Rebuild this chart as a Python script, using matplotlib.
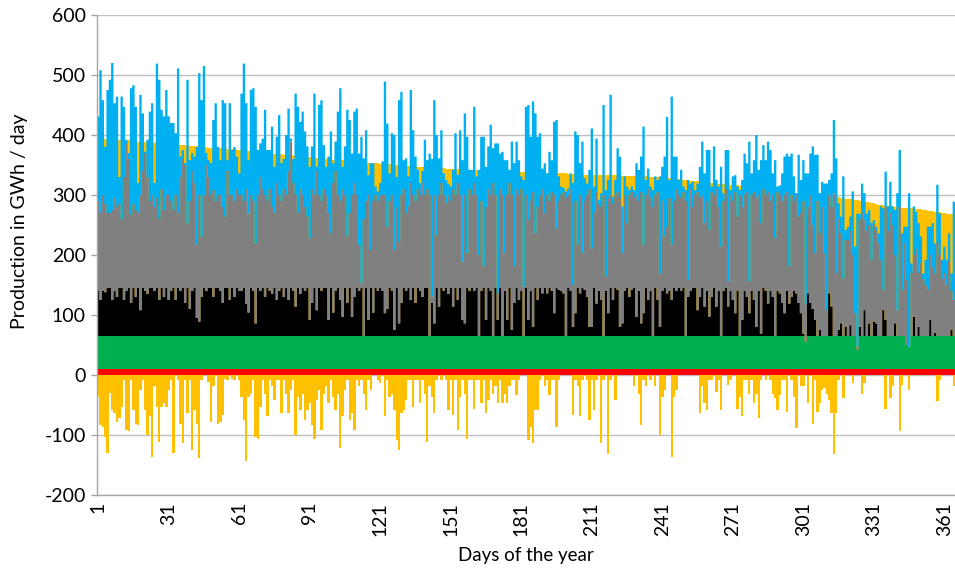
import numpy as np
import matplotlib

matplotlib.use("Agg")
import matplotlib.pyplot as plt

# daily levels in GWh/day, one value per day of the year (1..365)
yellow_top = [
    395, 395, 394, 394, 394, 393, 393, 393, 392, 392, 392, 391, 391, 391, 390, 390, 390, 389, 389, 389,
    388, 388, 388, 387, 387, 387, 386, 386, 386, 385, 385, 385, 384, 384, 384, 383, 383, 383, 382, 382,
    382, 381, 381, 381, 380, 380, 380, 379, 379, 379, 378, 378, 378, 377, 377, 377, 376, 376, 376, 375,
    375, 375, 374, 374, 373, 373, 373, 372, 372, 371, 371, 371, 370, 370, 369, 369, 369, 368, 368, 367,
    367, 367, 366, 366, 365, 365, 365, 364, 364, 363, 363, 363, 362, 362, 361, 361, 361, 360, 360, 359,
    359, 359, 358, 358, 358, 357, 357, 357, 356, 356, 356, 355, 355, 355, 354, 354, 354, 353, 353, 353, 352, 352,
    351, 351, 351, 350, 350, 350, 349, 349, 349, 349, 348, 348, 348, 348, 347, 347, 347, 347, 346, 346,
    346, 346, 345, 345, 345, 345, 344, 344, 344, 344, 344, 343, 343, 343, 343, 342, 342, 342, 342, 342,
    341, 341, 341, 341, 341, 341, 340, 340, 340, 340, 340, 340, 339, 339, 339, 339, 339, 339, 339, 338, 338,
    338, 338, 338, 338, 337, 337, 337, 337, 337, 337, 336, 336, 336, 336, 336, 336, 336, 335, 335, 335,
    335, 335, 335, 335, 334, 334, 334, 334, 334, 334, 334, 333, 333, 333, 333, 333, 333, 333, 332, 332,
    332, 332, 332, 332, 332, 331, 331, 331, 331, 331, 331, 330, 330, 330, 330, 330, 329, 329, 329, 329, 328,
    328, 327, 327, 326, 326, 325, 325, 324, 324, 323, 323, 323, 322, 322, 321, 321, 320, 320, 320, 319,
    319, 318, 318, 318, 317, 317, 317, 316, 316, 315, 315, 314, 314, 313, 313, 312, 312, 311, 311, 310,
    310, 309, 309, 308, 308, 308, 307, 307, 306, 306, 305, 305, 305, 304, 304, 303, 303, 302, 302, 301, 301,
    300, 300, 299, 299, 298, 298, 297, 297, 297, 296, 296, 295, 295, 294, 294, 293, 292, 292, 291, 290,
    290, 289, 288, 288, 287, 286, 285, 284, 283, 283, 282, 282, 281, 281, 280, 280, 280, 279, 279, 278,
    278, 278, 277, 277, 276, 276, 275, 275, 274, 273, 273, 272, 271, 271, 270, 270, 269, 269, 268, 268,
]

yellow_bottom = [
    -36, -83, -86, -103, -130, -30, -58, -64, -78, -72,
    -53, -8, -92, -94, -8, -58, -81, -83, -25, -8,
    -58, -100, -69, -136, -19, -53, -111, -53, -47, -53,
    -25, -8, -130, 0, -8, -81, -114, -8, -64, -8,
    -125, -58, -81, -139, -8, 0, 0, -11, -78, -19,
    0, -81, -78, -67, -6, -8, 0, -6, -8, 0, -8,
    -36, -75, -144, -36, -31, -8, -103, -106, -53, -8,
    -31, -69, -8, -19, -42, -8, -8, -64, -8, -31,
    -64, -25, -8, -100, -36, -58, -31, -75, -58, -47,
    -83, -106, -42, -25, -92, -31, -19, -47, -8, -36,
    -58, -31, -122, -69, -25, -8, -75, -64, -92, -8,
    -19, -8, -31, -58, -8, -25, 0, 0, -8, -14, 0,
    -69, -8, -36, -31, -58, -108, -125, -64, -58, -42,
    -8, -8, -53, -8, -8, -47, -8, -31, -111, -19,
    -36, -64, -8, 0, -8, 0, -8, -58, -8, -67,
    -8, -92, -36, -8, -31, -106, -8, -8, -56, -8,
    -8, -47, -8, -64, -42, -8, -31, -19, -47, -8,
    -47, -31, -47, -19, -8, -8, -33, -8, 0, 0, 0,
    -108, -86, -114, -58, -58, -8, 0, -19, -8, -33,
    -8, -8, -86, -8, 0, 0, 0, 0, 0, -67,
    -8, -19, -69, -8, 0, -8, -75, -8, -58, -8,
    0, -114, -8, 0, -131, -8, 0, -42, 0, 0,
    0, 0, 0, 0, 0, -19, 0, -31, -83, -8,
    -19, 0, -8, 0, -19, 0, -100, -36, -25, 0, 0,
    -136, -36, -25, 0, 0, 0, 0, 0, 0, 0,
    0, 0, -64, -19, -47, -58, -8, -8, 0, -28,
    -8, -58, 0, 0, -17, -8, 0, 0, -56, -36,
    -69, -8, -8, -31, -8, -47, -31, -72, -8, 0,
    -8, 0, -8, -31, -39, -58, -33, -8, -8, -61,
    0, -8, -36, -89, 0, -19, -19, 0, -47, 0, -81,
    -8, -61, -47, -25, -22, -31, -42, -64, -131, -64,
    -8, 0, -39, 0, 0, 0, -14, 0, 0, 0,
    -31, -14, 0, 0, 0, 0, 0, 0, 0, 0,
    -56, 0, -39, -19, 0, 0, -94, -17, 0, 0,
    -25, 0, 0, 0, 0, 0, 0, 0, 0, 0,
    0, 0, -44, -8, 0, 0, 0, 0, 0, -19,
]

red_top = 10
green_top = 65
green_dips = {302: 56, 324: 42, 345: 50, 346: 47}

black_top = [
    140, 125, 140, 138, 145, 145, 125, 140, 130, 145,
    145, 125, 140, 145, 120, 145, 130, 145, 108, 145,
    140, 135, 145, 145, 140, 145, 125, 145, 130, 145,
    125, 140, 145, 125, 145, 140, 145, 120, 145, 110,
    140, 145, 95, 89, 130, 145, 140, 145, 145, 130,
    145, 145, 140, 120, 145, 145, 125, 145, 130, 145, 140,
    140, 145, 119, 104, 145, 140, 86, 145, 140, 145,
    130, 145, 140, 135, 145, 125, 140, 145, 130, 145,
    125, 145, 140, 114, 145, 135, 145, 140, 145, 92,
    120, 145, 108, 145, 140, 145, 145, 92, 145, 104,
    140, 145, 125, 97, 145, 120, 145, 97, 130, 145,
    140, 145, 65, 145, 92, 145, 104, 145, 140, 145, 140,
    103, 110, 145, 140, 75, 145, 86, 120, 145, 140,
    145, 125, 145, 120, 145, 140, 130, 145, 145, 65,
    120, 86, 145, 114, 145, 140, 145, 135, 145, 114,
    145, 125, 145, 92, 86, 145, 140, 145, 140, 145,
    65, 140, 145, 92, 145, 140, 65, 145, 92, 145,
    65, 140, 92, 145, 75, 120, 145, 125, 140, 65, 145,
    92, 140, 80, 145, 125, 145, 136, 145, 136, 145,
    140, 103, 145, 142, 140, 136, 65, 145, 140, 80,
    103, 145, 136, 145, 142, 130, 80, 80, 145, 119,
    140, 125, 65, 140, 103, 145, 125, 145, 142, 80,
    86, 140, 145, 130, 142, 145, 97, 140, 86, 103,
    145, 125, 140, 65, 145, 125, 80, 140, 145, 136, 140,
    125, 145, 140, 145, 140, 145, 65, 130, 140, 145,
    145, 108, 130, 145, 114, 140, 97, 130, 145, 114,
    140, 65, 140, 145, 114, 140, 125, 103, 140, 65,
    92, 140, 130, 103, 140, 125, 80, 140, 69, 145,
    140, 119, 140, 130, 65, 140, 136, 120, 103, 140,
    119, 130, 140, 136, 120, 103, 69, 56, 136, 120, 110,
    92, 65, 75, 65, 65, 65, 136, 114, 65, 65,
    75, 86, 65, 80, 65, 83, 65, 65, 42, 80,
    65, 108, 65, 86, 65, 89, 86, 65, 65, 108,
    92, 65, 65, 65, 86, 65, 65, 65, 65, 50,
    47, 65, 97, 65, 80, 65, 65, 65, 65, 92,
    65, 70, 65, 65, 65, 65, 65, 65, 75, 65,
]

gray_top = [
    290, 270, 300, 285, 270, 270, 275, 295, 280, 285,
    260, 330, 385, 360, 267, 285, 275, 270, 300, 340,
    370, 330, 290, 300, 280, 295, 260, 310, 275, 300,
    300, 290, 275, 300, 270, 330, 360, 350, 253, 290,
    340, 320, 217, 300, 230, 300, 350, 330, 300, 308,
    290, 300, 300, 280, 264, 340, 300, 300, 290, 310, 300,
    300, 290, 310, 269, 300, 290, 219, 300, 330, 310,
    300, 290, 310, 280, 270, 320, 300, 290, 310, 300,
    340, 389, 320, 300, 270, 310, 300, 280, 264, 228,
    310, 300, 340, 300, 290, 310, 300, 270, 236, 320,
    340, 300, 290, 310, 300, 231, 270, 300, 320, 300,
    217, 153, 260, 290, 300, 208, 290, 300, 290, 300, 300,
    300, 247, 290, 300, 208, 280, 222, 300, 310, 270,
    281, 320, 300, 290, 310, 300, 320, 300, 310, 300,
    131, 300, 233, 300, 320, 300, 286, 300, 290, 310,
    300, 320, 300, 189, 300, 203, 310, 300, 320, 300,
    200, 290, 181, 280, 310, 300, 320, 300, 136, 310,
    300, 203, 300, 320, 300, 181, 310, 300, 310, 147, 300,
    258, 290, 305, 236, 280, 300, 310, 270, 300, 290,
    305, 300, 244, 290, 300, 305, 295, 300, 310, 150,
    290, 217, 300, 203, 290, 300, 310, 211, 272, 305,
    285, 280, 300, 164, 295, 300, 285, 300, 305, 295,
    203, 300, 253, 300, 305, 295, 300, 290, 305, 217,
    300, 310, 295, 280, 300, 305, 169, 290, 231, 247, 295,
    217, 290, 310, 300, 295, 305, 290, 158, 310, 280,
    300, 305, 295, 300, 253, 290, 242, 305, 300, 310,
    280, 214, 290, 310, 156, 300, 290, 305, 264, 300,
    280, 300, 305, 156, 300, 305, 295, 300, 253, 310,
    300, 305, 290, 300, 228, 305, 300, 290, 300, 305,
    181, 300, 290, 300, 264, 270, 290, 119, 280, 300, 250,
    203, 290, 236, 280, 203, 108, 300, 280, 303, 170,
    260, 236, 161, 225, 225, 240, 200, 103, 47, 260,
    270, 258, 240, 250, 192, 252, 240, 220, 192, 142,
    280, 240, 270, 250, 200, 108, 280, 142, 220, 158,
    47, 170, 200, 210, 170, 186, 160, 150, 142, 200,
    180, 169, 220, 200, 160, 170, 150, 190, 140, 125,
]

blue_top = [
    431, 508, 458, 380, 475, 492, 520, 453, 464, 330,
    464, 447, 392, 370, 478, 483, 447, 320, 467, 436,
    372, 392, 439, 453, 320, 519, 492, 442, 431, 475,
    431, 420, 420, 403, 511, 364, 375, 353, 492, 358,
    370, 364, 380, 503, 458, 515, 370, 358, 353, 425,
    453, 380, 358, 458, 453, 358, 453, 375, 380, 364, 336,
    469, 519, 453, 358, 475, 478, 447, 375, 386, 394,
    442, 375, 375, 414, 347, 397, 433, 353, 360, 400,
    444, 394, 360, 469, 447, 422, 439, 406, 381, 347,
    381, 469, 347, 450, 458, 383, 347, 364, 406, 353,
    389, 439, 478, 347, 381, 442, 425, 369, 439, 444,
    369, 397, 361, 408, 333, 353, 353, 314, 306, 320, 356,
    489, 419, 336, 403, 400, 330, 458, 472, 358, 361,
    331, 475, 408, 364, 342, 320, 340, 392, 358, 369,
    360, 458, 400, 361, 408, 336, 325, 319, 314, 342,
    403, 334, 408, 358, 436, 397, 342, 342, 447, 331,
    342, 397, 397, 347, 381, 417, 378, 386, 386, 369,
    372, 358, 358, 342, 389, 353, 389, 358, 331, 325, 447,
    450, 397, 456, 436, 397, 403, 344, 353, 336, 372,
    358, 422, 425, 331, 314, 312, 306, 311, 336, 320,
    406, 400, 353, 389, 328, 319, 342, 411, 314, 394,
    292, 303, 450, 308, 325, 467, 297, 325, 378, 364,
    281, 331, 314, 308, 314, 308, 353, 342, 364, 414,
    325, 344, 314, 308, 331, 325, 331, 347, 364, 430, 325,
    464, 364, 364, 325, 342, 314, 308, 325, 319, 322,
    308, 319, 347, 389, 336, 375, 375, 314, 381, 325,
    314, 347, 303, 375, 375, 308, 331, 333, 314, 308,
    325, 369, 353, 389, 336, 358, 400, 342, 358, 383,
    358, 389, 375, 336, 358, 314, 316, 336, 364, 369,
    364, 369, 331, 303, 367, 325, 358, 336, 336, 369, 381,
    367, 367, 303, 322, 319, 319, 325, 336, 425, 361,
    286, 264, 331, 242, 247, 264, 306, 214, 269, 269,
    319, 303, 269, 275, 253, 258, 247, 236, 281, 278,
    339, 281, 322, 281, 275, 303, 375, 236, 247, 247,
    303, 186, 281, 272, 253, 231, 169, 192, 247, 247,
    253, 219, 317, 269, 192, 214, 192, 236, 169, 289,
]

x_ticks = list(range(1, 366, 30))
y_ticks = list(range(-200, 601, 100))

YELLOW = "#FFC000"
BLUE = "#00B0F0"
GRAY = "#808080"
BLACK = "#000000"
GREEN = "#00B050"
RED = "#FF0000"


def main():
    for series in (yellow_top, yellow_bottom, black_top, gray_top, blue_top):
        assert len(series) == 365, len(series)

    n = len(yellow_top)
    edges = np.arange(n + 1) + 0.5

    red = np.full(n, red_top, dtype=float)
    green = np.full(n, green_top, dtype=float)
    for day, level in green_dips.items():
        green[day - 1] = level

    plt.rcParams["font.family"] = ["Lato", "DejaVu Sans"]

    fig = plt.figure(figsize=(9.55, 5.72), dpi=100)
    ax = fig.add_axes([97 / 955, 1 - 495 / 572, 858 / 955, 480 / 572])

    # columns are stacked day by day, each layer sits on the one below
    ax.stairs(yellow_top, edges, baseline=0, fill=True, color=YELLOW, lw=0)
    ax.stairs(yellow_bottom, edges, baseline=0, fill=True, color=YELLOW, lw=0)
    ax.stairs(red, edges, baseline=0, fill=True, color=RED, lw=0)
    ax.stairs(green, edges, baseline=red, fill=True, color=GREEN, lw=0)
    ax.stairs(black_top, edges, baseline=green, fill=True, color=BLACK, lw=0)
    ax.stairs(gray_top, edges, baseline=black_top, fill=True, color=GRAY, lw=0)
    ax.stairs(blue_top, edges, baseline=gray_top, fill=True, color=BLUE, lw=0)

    ax.set_xlim(0.5, n + 0.5)
    ax.set_ylim(-200, 600)
    ax.set_xticks(x_ticks)
    ax.set_xticklabels([str(t) for t in x_ticks], rotation=90, fontsize=14)
    ax.set_yticks(y_ticks)
    ax.set_yticklabels([str(t) for t in y_ticks], fontsize=14)

    ax.set_axisbelow(True)
    ax.yaxis.grid(True, color="#BFBFBF", linewidth=1)
    ax.tick_params(axis="x", length=0, pad=5)
    ax.tick_params(axis="y", length=4, width=1, color="#A6A6A6", pad=4)

    for side in ("top", "right"):
        ax.spines[side].set_visible(False)
    for side in ("left", "bottom"):
        ax.spines[side].set_color("#A6A6A6")
        ax.spines[side].set_linewidth(1)

    ax.set_xlabel("Days of the year", fontsize=13.5)
    ax.xaxis.set_label_coords(0.5, -52 / 480)
    ax.set_ylabel("Production in GWh / day", fontsize=14)
    ax.yaxis.set_label_coords(-0.08, 0.57)

    fig.savefig("out.png", dpi=100)
    return 0


if __name__ == "__main__":
    main()
